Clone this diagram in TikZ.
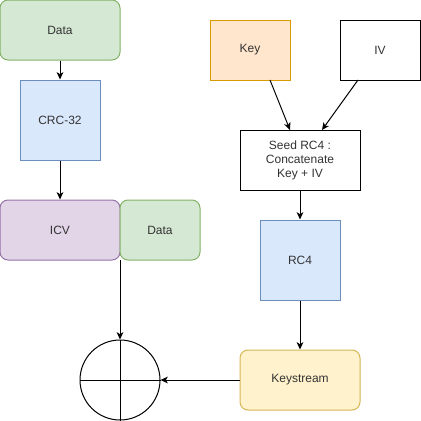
\documentclass[tikz,border=0pt]{standalone}
\usepackage{fontspec}
\setmainfont{Liberation Sans}
\usetikzlibrary{arrows.meta}
\definecolor{gfill}{HTML}{D5E8D4}\definecolor{gline}{HTML}{82B366}
\definecolor{bfill}{HTML}{DAE8FC}\definecolor{bline}{HTML}{6C8EBF}
\definecolor{pfill}{HTML}{E1D5E7}\definecolor{pline}{HTML}{9673A6}
\definecolor{ofill}{HTML}{FFE6CC}\definecolor{oline}{HTML}{D79B00}
\definecolor{yfill}{HTML}{FFF2CC}\definecolor{yline}{HTML}{D6B656}
\definecolor{txt}{HTML}{333333}
\begin{document}
\begin{tikzpicture}[x=0.75pt,y=-0.75pt,
  box/.style={draw,line width=0.75pt,inner sep=0pt,align=center,font=\fontsize{9}{10.5}\selectfont,text=txt},
  rbox/.style={box,rounded corners=6pt},
  arr/.style={line width=0.75pt,-{Stealth[length=5.5pt,width=5pt,inset=1.5pt]}},
  ln/.style={line width=0.75pt}]
\useasboundingbox (0,0) rectangle (421,421);
\node[rbox,fill=gfill,draw=gline,minimum width=90pt,minimum height=45pt] (data1) at (60,30) {Data};
\node[box,fill=bfill,draw=bline,minimum width=60pt,minimum height=60pt] (crc) at (60,120) {CRC-32};
\node[rbox,fill=pfill,draw=pline,minimum width=90pt,minimum height=45pt] (icv) at (60,230) {ICV};
\node[rbox,fill=gfill,draw=gline,minimum width=60pt,minimum height=45pt] (data2) at (160,230) {Data};
\node[box,fill=ofill,draw=oline,minimum width=60pt,minimum height=45pt] (key) at (250,50) {Key};
\node[box,fill=white,draw=black,minimum width=60pt,minimum height=45pt] (iv) at (380,50) {IV};
\node[box,fill=white,draw=black,minimum width=90pt,minimum height=45pt] (seed) at (300,160) {Seed RC4 :\\Concatenate\\Key + IV};
\node[box,fill=bfill,draw=bline,minimum width=60pt,minimum height=60pt] (rc4) at (300,260) {RC4};
\node[rbox,fill=yfill,draw=yline,minimum width=90pt,minimum height=45pt] (ks) at (300,380) {Keystream};
\node[draw,circle,line width=0.75pt,minimum size=60pt,inner sep=0pt] (xor) at (120,380) {};
\draw[ln] (xor.north) -- (xor.south);
\draw[ln] (xor.west) -- (xor.east);
\coordinate (split) at (120,260);
\coordinate (keyout) at (270,80);
\coordinate (seedinl) at (290,130);
\coordinate (ivout) at (358,80);
\coordinate (seedinr) at (322,130);
\draw[arr] (data1) -- (crc);
\draw[arr] (crc) -- (icv);
\draw[arr] (split) -- (xor.north);
\draw[arr] (keyout) -- (seedinl);
\draw[arr] (ivout) -- (seedinr);
\draw[arr] (seed) -- (rc4);
\draw[arr] (rc4) -- (ks);
\draw[arr] (ks) -- (xor.east);
\end{tikzpicture}
\end{document}
